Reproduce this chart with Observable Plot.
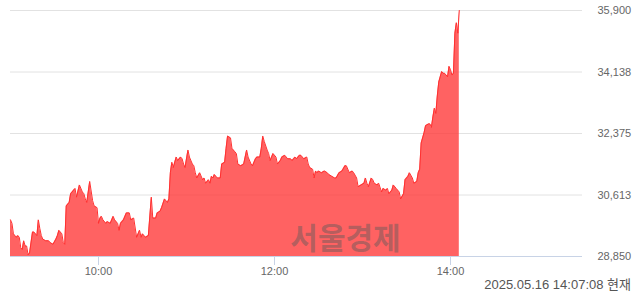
<!DOCTYPE html>
<html>
<head>
<meta charset="utf-8">
<script src="https://cdn.jsdelivr.net/npm/d3@7"></script>
<script src="https://cdn.jsdelivr.net/npm/@observablehq/plot@0.6"></script>
<style>
  html, body { margin: 0; padding: 0; background: #fff; overflow: hidden; }
  #chart svg { display: block; }
  #caption { font: 13px "Liberation Sans", "Noto Sans CJK KR", sans-serif; color: #555; text-align: right; padding-right: 9px; height: 18px; line-height: 18px; }
</style>
</head>
<body>
<div id="chart"></div>
<div id="caption"></div>
<script>
// minutes after 09:00 on 2025-05-16
const minutes = [
  0,1,2,4,5,6,7,8,9,10,11,12,13,15,16,18,19,20,21,22,
  24,26,27,29,31,32,33,35,36,37,38,40,41,43,44,45,47,49,50,51,
  52,53,54,56,57,59,60,61,62,63,65,66,68,70,71,73,74,75,77,79,
  81,82,84,86,87,88,89,90,92,94,96,97,99,100,102,103,105,107,108,109,
  110,111,113,114,116,117,118,119,121,122,124,125,126,127,129,131,132,133,135,136,
  137,138,139,141,142,143,144,146,147,148,150,151,153,154,155,157,159,160,161,162,
  164,165,167,168,170,171,172,173,175,176,177,179,181,182,184,185,187,189,191,192,
  194,195,197,198,200,202,203,204,206,207,208,209,210,212,214,216,217,219,221,222,
  224,226,228,229,231,233,234,236,237,239,241,242,243,244,246,247,248,250,251,253,
  254,256,257,258,260,261,263,265,266,268,269,271,272,274,275,277,278,279,280,282,
  283,285,286,287,288,289,290,291,292,293,294,295,296,298,299,300,301,302,303,304,
  305,306
];
const prices = [
  29900,29800,29500,29400,29450,29400,29100,29050,29300,29150,29150,28900,28950,29550,29550,29450,29900,29650,29450,29350,
  29300,29300,29250,29200,29350,29450,29600,29500,29250,29200,30300,30400,30650,30750,30800,30550,30900,30700,30650,30500,
  30400,30700,31000,30450,30300,30250,29800,29950,30000,29900,29800,29850,29800,30000,29900,29800,29600,29800,29900,30100,
  30100,29900,29950,29400,29500,29600,29400,29500,29400,29450,30550,29950,29950,30100,30150,30250,30500,30400,30500,31250,
  31550,31400,31700,31600,31700,31650,31500,31400,31900,31700,31500,31450,31250,31100,31250,31050,31100,30950,31050,30950,
  31150,31100,31200,31100,31100,31100,31500,31550,31950,32300,32250,31950,31850,31800,31500,31450,31500,31700,31900,31700,
  31500,31450,31650,31700,31700,31950,32300,32150,31900,31800,31600,31800,31700,31500,31600,31700,31750,31650,31650,31600,
  31700,31650,31750,31750,31650,31700,31500,31400,31350,31100,31300,31250,31300,31250,31300,31250,31200,31150,31100,31100,
  31250,31300,31450,31450,31250,31300,31250,31100,30850,30900,30950,31100,30950,30850,31100,31050,30950,30900,30950,30700,
  30800,30750,30800,30650,30750,30900,30800,30700,30500,30650,31050,31150,31250,31100,30950,31000,31250,31350,32100,32400,
  32600,32650,32650,32550,32850,33100,32950,33450,33850,34000,34150,34100,34100,34000,34300,34200,34050,34100,35250,35550,
  35250,35900
];
const yTicks = [28850, 30612.5, 32375, 34137.5, 35900];
const yLabels = ["28,850", "30,613", "32,375", "34,138", "35,900"];
const xTickLabels = ["10:00", "12:00", "14:00"];
const watermark = "서울경제";
const captionText = "2025.05.16 14:07:08 현재";

const base = new Date(2025, 4, 16, 9, 0, 0);
const at = (m) => new Date(base.getTime() + m * 60000);
const parseHM = (s) => { const [h, m] = s.split(":").map(Number); return at((h - 9) * 60 + m); };
const data = minutes.map((m, i) => ({t: at(m), p: prices[i]}));
const xTicks = xTickLabels.map(parseHM);
const yMin = yTicks[0], yMax = yTicks[yTicks.length - 1];

const chart = Plot.plot({
  width: 640,
  height: 276,
  marginLeft: 10,
  marginRight: 58,
  marginTop: 10,
  marginBottom: 20,
  style: {fontFamily: "'Liberation Sans', 'Noto Sans CJK KR', sans-serif", fontSize: "11px", color: "#666", background: "#fff"},
  x: {type: "time", domain: [parseHM("09:00"), parseHM("15:30")]},
  y: {domain: [yMin, yMax]},
  marks: [
    Plot.gridY(yTicks, {stroke: "#e2e2e2", strokeOpacity: 1}),
    Plot.areaY(data, {x: "t", y1: () => yMin, y2: "p", fill: "#ff3b3b", fillOpacity: 0.8, curve: "linear"}),
    Plot.lineY(data, {x: "t", y: "p", stroke: "#ff3030", strokeWidth: 1}),
    Plot.ruleY([yMin], {stroke: "#c8d3e6"}),
    Plot.axisY(yTicks, {anchor: "right", tickSize: 0, tickPadding: 15, tickFormat: (d) => yLabels[yTicks.indexOf(d)], fill: "#666", label: null}),
    Plot.axisX(xTicks, {anchor: "bottom", tickSize: 9, tickPadding: 2, stroke: "#c8d3e6", fill: "#666", tickFormat: (d) => xTickLabels[xTicks.findIndex(t => +t === +d)], label: null}),
    Plot.text([watermark], {frameAnchor: "bottom", dx: 49, dy: -8, lineAnchor: "bottom", fontSize: 30, fontWeight: "bold", fontFamily: "'Noto Sans CJK KR', sans-serif", fill: "#5a5a5a", fillOpacity: 0.45})
  ]
});
document.getElementById("chart").appendChild(chart);
document.getElementById("caption").textContent = captionText;
</script>
</body>
</html>
